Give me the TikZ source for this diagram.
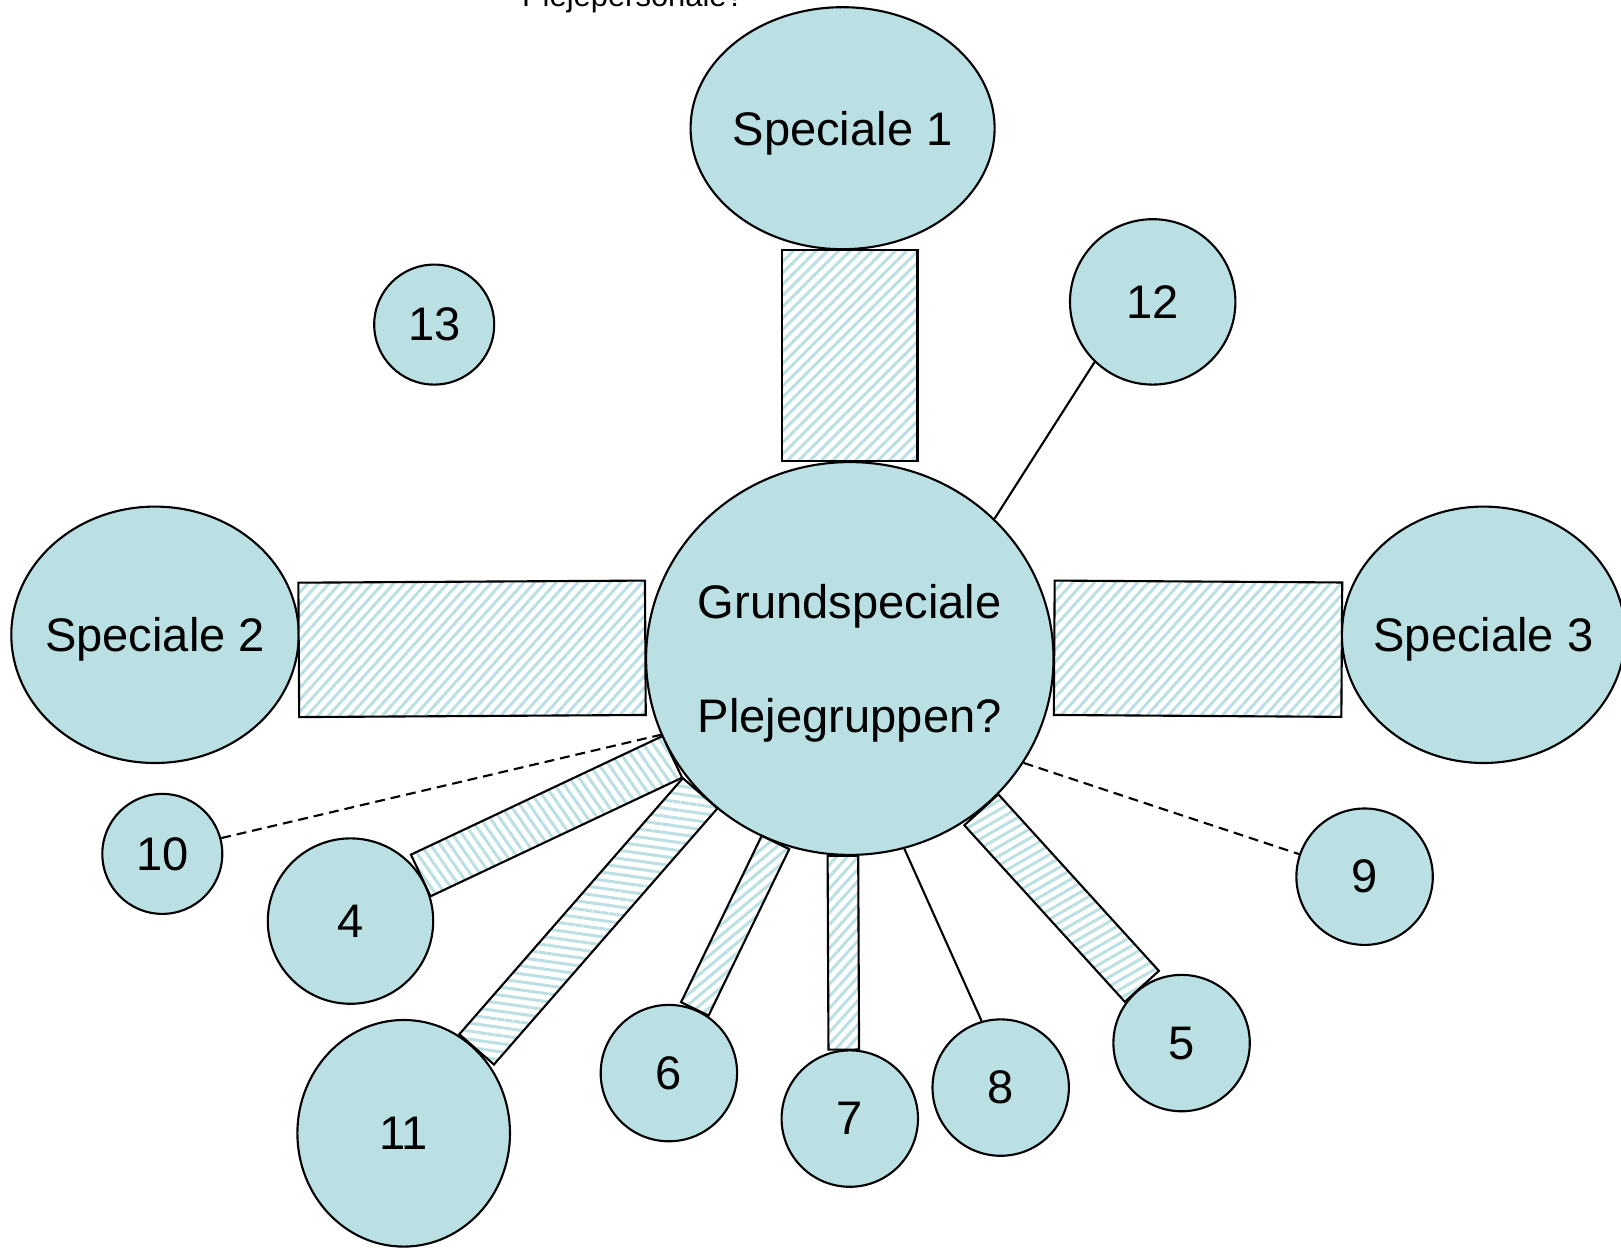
\documentclass[tikz,border=0pt]{standalone}
\usepackage{fontspec}
\setmainfont{Liberation Sans}
\usetikzlibrary{shapes.geometric,calc,patterns.meta}

\definecolor{blobfill}{RGB}{187,224,227}

% hatched bar between two border points
\newcommand{\stripebar}[4]{%
  \draw[barline, pattern={Lines[angle=#4,distance=0.08cm,line width=0.03cm]}]
    ($(#1)!#3!90:(#2)$) -- ($(#2)!#3!-90:(#1)$) -- ($(#2)!#3!90:(#1)$) -- ($(#1)!#3!-90:(#2)$) -- cycle;}

\begin{document}
\begin{tikzpicture}[
    font=\fontsize{13.4}{32.6}\selectfont,
    blob/.style={ellipse, draw, fill=blobfill, line width=0.6pt, inner sep=0pt},
    ball/.style={circle, draw, fill=blobfill, line width=0.6pt, inner sep=0pt},
    barline/.style={line width=0.6pt, preaction={fill=white}, pattern color=blobfill},
    link/.style={line width=0.6pt},
    dashlink/.style={line width=0.6pt, dash pattern=on 2.8pt off 1.7pt},
    every label/.style={yshift=-0.05cm}
  ]
    \clip (0,0) rectangle (16.21,-12.48);
    \node[font=\fontsize{8.8}{10}\selectfont, anchor=base] (pleje) at (6.33,-0.07) {Plejepersonale?};

    \node[blob, minimum width=3.04cm, minimum height=2.42cm, label=center:Speciale 1] (sp1) at (8.426,-1.282) {};
    \node[blob, minimum width=2.874cm, minimum height=2.564cm, label=center:Speciale 2] (sp2) at (1.55,-6.348) {};
    \node[blob, minimum width=2.832cm, minimum height=2.564cm, label=center:Speciale 3] (sp3) at (14.835,-6.348) {};
    \node[blob, minimum width=4.074cm, minimum height=3.928cm,
          label={[align=center]center:{Grundspeciale\\Plejegruppen?}}] (grund) at (8.498,-6.585) {};

    \node[ball, minimum size=1.654cm] (n12) at (11.527,-3.019) {12};
    \node[ball, minimum size=1.2cm] (n13) at (4.342,-3.246) {13};
    \node[ball, minimum size=1.2cm] (n10) at (1.623,-8.539) {10};
    \node[ball, minimum size=1.654cm] (n4) at (3.505,-9.211) {4};
    \node[blob, minimum width=2.126cm, minimum height=2.266cm] (n11) at (4.037,-11.333) {11};
    \node[ball, minimum size=1.364cm] (n6) at (6.689,-10.731) {6};
    \node[ball, minimum size=1.364cm] (n7) at (8.498,-11.186) {7};
    \node[ball, minimum size=1.364cm] (n8) at (10.007,-10.876) {8};
    \node[ball, minimum size=1.364cm] (n5) at (11.816,-10.431) {5};
    \node[ball, minimum size=1.364cm] (n9) at (13.646,-8.767) {9};

    \draw[link] (n12.226) -- (grund.44);
    \draw[link] (grund.286) -- (n8.106);
    \draw[dashlink] (n10.15) -- (grund.202);
    \draw[dashlink] (grund.329) -- (n9.161);

    \coordinate (topbar) at (grund.north |- sp1.south);
    \stripebar{grund.north}{topbar}{0.677cm}{45}
    \stripebar{sp2.-6}{grund.177}{0.672cm}{48}
    \stripebar{grund.3}{sp3.186}{0.672cm}{48}
    \stripebar{n4.33}{grund.209}{0.23cm}{-55}
    \stripebar{n11.49}{grund.222}{0.23cm}{-8}
    \stripebar{n6.68}{grund.248}{0.153cm}{40}
    \stripebar{n7.95}{grund.268}{0.153cm}{48}
    \stripebar{grund.311}{n5.125}{0.23cm}{30}
\end{tikzpicture}
\end{document}
